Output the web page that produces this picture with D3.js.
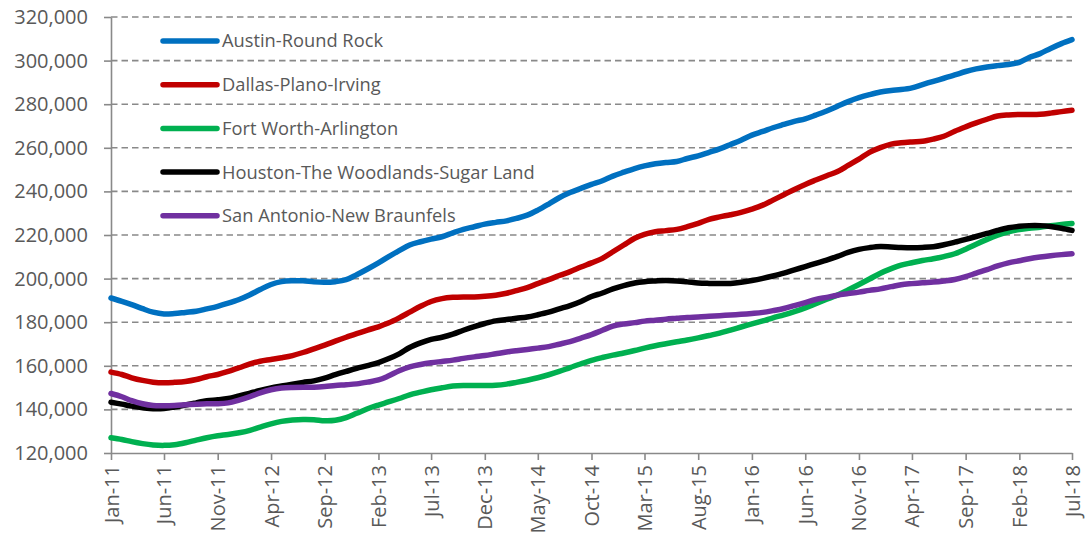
<!DOCTYPE html>
<html lang="en">
<head>
<meta charset="UTF-8">
<title>Texas metro home prices</title>
<script src="https://d3js.org/d3.v7.min.js"></script>
<style>
  body { margin: 0; background: #fff; }
  svg text { font-family: "Open Sans", sans-serif; fill: #595959; }
</style>
</head>
<body>
<script>
// monthly values, Jan-11 .. Jul-18
var austin = [191100,189600,188100,186200,184600,183800,184000,184500,185000,186100,187300,188700,190400,192600,195000,197300,198600,199000,199000,198500,198300,198600,199500,201800,204400,207200,210000,212800,215400,216900,218100,219200,221000,222600,223800,225000,225800,226500,227600,229100,231400,234200,237100,239500,241400,243200,244900,247000,248800,250500,251700,252700,253300,253700,255100,256300,257900,259500,261500,263500,265800,267500,269200,270700,272100,273300,275000,276900,279100,281200,283000,284400,285600,286300,286700,287500,289000,290500,291900,293400,295000,296200,297100,297700,298200,299200,301400,303200,305600,307800,309600];
var dallas = [157100,156000,154500,153300,152500,152200,152400,152800,153700,155000,156000,157400,159100,160900,162100,162900,163700,164700,166100,167800,169500,171300,173100,174800,176400,177900,179600,182000,184600,187300,189500,190800,191400,191600,191600,191900,192400,193300,194500,195900,197700,199500,201400,203200,205300,207200,209300,212300,215400,218500,220300,221500,222000,222600,223800,225300,227200,228300,229300,230400,231900,233700,236000,238500,240900,243200,245200,247200,249100,251900,254800,257900,260100,261700,262300,262700,263000,264000,265300,267600,269600,271400,273100,274600,275100,275300,275300,275400,275900,276600,277200];
var fortWorth = [127000,126200,125200,124300,123700,123500,123800,124700,125900,127000,127900,128500,129300,130400,131900,133400,134500,135100,135400,135300,134800,135000,136200,138200,140300,142000,143400,145000,146700,147900,149000,149900,150700,151000,151000,151000,151100,151600,152400,153400,154500,155900,157400,159200,160900,162500,163800,164900,165900,167000,168100,169200,170100,171000,171800,172800,173900,175000,176400,177800,179200,180600,182000,183400,184900,186600,188500,190500,192500,194800,197300,199800,202500,204600,206200,207300,208300,209100,210100,211400,213500,215800,218000,219900,221500,222500,223100,223600,224200,224800,225300];
var houston = [143300,142400,141500,140800,140300,140400,141100,142000,143000,144000,144400,145000,146200,147500,148700,149800,150700,151600,152400,153100,154300,155900,157400,158800,160100,161500,163200,165500,168400,170500,172100,173100,174500,176300,178000,179400,180600,181200,181800,182400,183400,184600,186100,187600,189500,191800,193400,195300,196800,198000,198600,198900,199100,198900,198500,198000,197800,197700,197800,198300,199100,200100,201200,202500,204000,205500,207000,208500,210200,212000,213400,214200,214700,214500,214300,214200,214300,214600,215500,216700,218000,219300,220700,222100,223300,224000,224300,224300,223900,223100,222100];
var sanAntonio = [147300,145800,144000,142600,141800,141700,141800,142100,142400,142600,142600,143000,144300,145900,147600,149000,149800,150100,150200,150200,150500,151000,151300,151700,152500,153500,155300,157700,159500,160600,161400,162000,162600,163400,164100,164700,165500,166300,166900,167500,168100,168800,169900,171100,172700,174300,176300,178200,179200,179800,180500,180900,181400,181800,182200,182400,182700,183000,183300,183600,184000,184500,185300,186300,187600,189000,190400,191400,192400,193100,193800,194600,195300,196300,197200,197700,198100,198400,198900,199600,200900,202500,204100,205800,207200,208200,209100,209900,210500,211000,211400];

var seriesNames = ["Austin-Round Rock", "Dallas-Plano-Irving", "Fort Worth-Arlington", "Houston-The Woodlands-Sugar Land", "San Antonio-New Braunfels"];
var seriesColors = ["#0070C0", "#C00000", "#00B050", "#000000", "#7030A0"];
var tickLabels = ["Jan-11","Jun-11","Nov-11","Apr-12","Sep-12","Feb-13","Jul-13","Dec-13","May-14","Oct-14","Mar-15","Aug-15","Jan-16","Jun-16","Nov-16","Apr-17","Sep-17","Feb-18","Jul-18"];
var yTicks = [120000,140000,160000,180000,200000,220000,240000,260000,280000,300000,320000];

var allSeries = [austin, dallas, fortWorth, houston, sanAntonio];
var months = d3.timeMonth.range(new Date(2011, 0, 1), new Date(2018, 7, 1));

var w = 1086, h = 544;
var plotLeft = 111, plotRight = 1072, plotTop = 17, plotBottom = 453;
var axisColor = "#898989";

var svg = d3.select("body").append("svg")
    .attr("width", w)
    .attr("height", h);

var x = d3.scaleTime()
    .domain([months[0], months[months.length - 1]])
    .range([plotLeft, plotRight]);

var y = d3.scaleLinear()
    .domain([120000, 320000])
    .range([plotBottom, plotTop]);

// dashed gridlines
svg.append("g").selectAll("line")
    .data(yTicks.slice(1))
    .enter().append("line")
    .attr("x1", plotLeft).attr("x2", plotRight)
    .attr("y1", function(d) { return y(d); })
    .attr("y2", function(d) { return y(d); })
    .attr("stroke", axisColor)
    .attr("stroke-width", 1.6)
    .attr("stroke-dasharray", "6.5,4");

// y axis
var yAxis = svg.append("g")
    .attr("transform", "translate(" + plotLeft + ",0)")
    .call(d3.axisLeft(y).tickValues(yTicks).tickSize(7).tickSizeOuter(0).tickPadding(16)
        .tickFormat(d3.format(",")));
yAxis.select(".domain").attr("stroke", axisColor).attr("stroke-width", 1.6);
yAxis.selectAll(".tick line").attr("stroke", axisColor).attr("stroke-width", 1.6);
yAxis.selectAll(".tick text")
    .style("font-size", "20px")
    .style("font-family", "'Open Sans', sans-serif")
    .attr("fill", "#595959");

// x axis
var tickDates = months.filter(function(d, i) { return i % 5 === 0; });
var xAxis = svg.append("g")
    .attr("transform", "translate(0," + plotBottom + ")")
    .call(d3.axisBottom(x).tickValues(tickDates).tickSize(7).tickSizeOuter(0)
        .tickFormat(function(d, i) { return tickLabels[i]; }));
xAxis.select(".domain").attr("stroke", axisColor).attr("stroke-width", 1.6);
xAxis.selectAll(".tick line").attr("stroke", axisColor).attr("stroke-width", 1.6);
xAxis.selectAll(".tick text")
    .style("font-size", "20px")
    .style("font-family", "'Open Sans', sans-serif")
    .attr("fill", "#595959")
    .attr("text-anchor", "end")
    .attr("transform", "rotate(-90)")
    .attr("x", -12)
    .attr("y", 0)
    .attr("dy", "0.35em");

// lines
var line = d3.line()
    .x(function(d, i) { return x(months[i]); })
    .y(function(d) { return y(d); })
    .curve(d3.curveCatmullRom);

svg.append("g").selectAll("path")
    .data(allSeries)
    .enter().append("path")
    .attr("d", line)
    .attr("fill", "none")
    .attr("stroke", function(d, i) { return seriesColors[i]; })
    .attr("stroke-width", 5.5)
    .attr("stroke-linejoin", "round")
    .attr("stroke-linecap", "round");

// legend
var legend = svg.append("g").selectAll("g")
    .data(seriesNames)
    .enter().append("g")
    .attr("transform", function(d, i) { return "translate(163," + (41 + i * 43.7) + ")"; });

legend.append("line")
    .attr("x1", 0).attr("x2", 54)
    .attr("stroke", function(d, i) { return seriesColors[i]; })
    .attr("stroke-width", 5.5)
    .attr("stroke-linecap", "round");

legend.append("text")
    .attr("x", 59)
    .attr("dy", "0.35em")
    .style("font-size", "18.3px")
    .text(function(d) { return d; });
</script>
</body>
</html>
